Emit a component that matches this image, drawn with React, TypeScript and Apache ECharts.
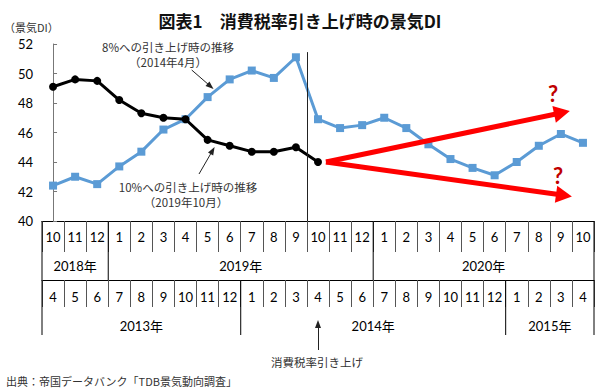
import React, { useEffect, useRef } from "react";
import * as echarts from "echarts";

// ---- data ----
const topMonths = ["10", "11", "12", "1", "2", "3", "4", "5", "6", "7", "8", "9", "10", "11", "12", "1", "2", "3", "4", "5", "6", "7", "8", "9", "10"];
const bottomMonths = ["4", "5", "6", "7", "8", "9", "10", "11", "12", "1", "2", "3", "4", "5", "6", "7", "8", "9", "10", "11", "12", "1", "2", "3", "4"];
const topYearLabels = ["2018年", "2019年", "2020年"];
const topYearBounds = [0, 3, 15, 25];
const bottomYearLabels = ["2013年", "2014年", "2015年"];
const bottomYearBounds = [0, 9, 21, 25];

// 8% hike path (2013/4 - 2015/4)
const di2014 = [42.4, 43.0, 42.5, 43.7, 44.7, 46.2, 46.9, 48.4, 49.6, 50.2, 49.7, 51.1, 46.9, 46.3, 46.5, 47.0, 46.3, 45.2, 44.2, 43.6, 43.1, 44.0, 45.1, 45.9, 45.3];
// 10% hike path (2018/10 - 2019/10)
const di2019 = [49.1, 49.6, 49.5, 48.2, 47.3, 47.0, 46.9, 45.5, 45.1, 44.7, 44.7, 45.0, 44.0];

// forecast arrows [x-index, DI]
const forecastStart = [12.36, 44.0];
const forecastUp = [23.05, 47.34];
const forecastDown = [23.14, 41.74];
const hikeBoundary = 11.5;

const FONT = 'Lato, "Noto Sans CJK JP", sans-serif';
const JP = '"Noto Sans CJK JP", sans-serif';

export default function App() {
  const ref = useRef<HTMLDivElement>(null);
  useEffect(() => {
    if (!ref.current) return;
    document.body.style.margin = "0";
    const chart = echarts.init(ref.current, undefined, { renderer: "svg" });
    chart.setOption({
      animation: false,
      backgroundColor: "#fff",
      textStyle: { fontFamily: FONT },
      grid: { left: 42, right: 6, top: 44, bottom: 170, containLabel: false },
      xAxis: [
        { type: "value", min: -0.5, max: 24.5, show: false },
        {
          type: "category",
          data: topMonths,
          position: "bottom",
          offset: 0,
          boundaryGap: true,
          axisLine: { show: true, lineStyle: { color: "#000", width: 1 } },
          axisTick: { show: true, interval: 0, length: 31, lineStyle: { color: "#555" } },
          axisLabel: { interval: 0, fontSize: 13, color: "#000", margin: 9, fontFamily: FONT },
        },
        {
          type: "category",
          data: bottomMonths,
          position: "bottom",
          offset: 59,
          boundaryGap: true,
          axisLine: { show: true, lineStyle: { color: "#000", width: 1 } },
          axisTick: { show: true, interval: 0, length: 27, lineStyle: { color: "#555" } },
          axisLabel: { interval: 0, fontSize: 13, color: "#000", margin: 10, fontFamily: FONT },
        },
      ],
      yAxis: {
        type: "value",
        min: 40,
        max: 52,
        interval: 2,
        axisLine: { show: true, lineStyle: { color: "#777" } },
        axisTick: { show: true, inside: true, length: 4, lineStyle: { color: "#777" } },
        axisLabel: { fontSize: 13, color: "#000", margin: 9, fontFamily: FONT },
        splitLine: { show: false },
      },
      series: [
        {
          type: "line",
          xAxisIndex: 0,
          z: 2,
          data: di2014.map((v, i) => [i, v]),
          symbol: "rect",
          symbolSize: 8,
          itemStyle: { color: "#5B9BD5" },
          lineStyle: { color: "#5B9BD5", width: 3 },
          markLine: {
            silent: true,
            symbol: ["none", "none"],
            label: { show: false },
            lineStyle: { color: "#222", width: 1, type: "solid" },
            data: [
              [
                { coord: [hikeBoundary, 51.45], symbol: "none" },
                { coord: [hikeBoundary, 40], symbol: "none" },
              ],
              [
                { x: 191.7, y: 70, symbol: "none" },
                { x: 210.5, y: 86.3, symbol: "triangle", symbolSize: [6, 8] },
              ],
              [
                { x: 199, y: 174, symbol: "none" },
                { x: 212.6, y: 150.5, symbol: "triangle", symbolSize: [6, 8] },
              ],
              [
                { x: 318, y: 350, symbol: "none" },
                { x: 318, y: 324, symbol: "triangle", symbolSize: [6, 8] },
              ],
            ],
          },
        },
        {
          type: "line",
          xAxisIndex: 0,
          z: 3,
          data: di2019.map((v, i) => [i, v]),
          symbol: "circle",
          symbolSize: 8,
          itemStyle: { color: "#000" },
          lineStyle: { color: "#000", width: 3 },
          markLine: {
            silent: true,
            symbol: ["none", "triangle"],
            symbolSize: [17, 16],
            label: { show: false },
            lineStyle: { color: "#FF0000", width: 5, type: "solid" },
            data: [
              [{ coord: forecastStart }, { coord: forecastUp }],
              [{ coord: forecastStart }, { coord: forecastDown }],
            ],
          },
        },
      ],
    });

    const xp = (b: number) => chart.convertToPixel({ xAxisIndex: 0 }, b - 0.5) as number;
    const y0 = chart.convertToPixel({ yAxisIndex: 0 }, 40) as number;
    const lineStyle = { stroke: "#000", lineWidth: 1 };
    const g: any[] = [];
    const vline = (x: number, ya: number, yb: number) =>
      g.push({ type: "line", shape: { x1: x, y1: ya, x2: x, y2: yb }, style: lineStyle, z: 10 });
    const rowTopEnd = y0 + 59;
    const rowBotEnd = y0 + 114;
    vline(xp(0), y0, rowBotEnd);
    vline(xp(25), y0, rowBotEnd);
    topYearBounds.slice(1, -1).forEach((b) => vline(xp(b), y0, rowTopEnd));
    bottomYearBounds.slice(1, -1).forEach((b) => vline(xp(b), rowTopEnd, rowBotEnd));
    const yearText = (label: string, x: number, y: number) =>
      g.push({
        type: "text",
        x,
        y,
        style: { text: label, fontSize: 13, fill: "#000", fontFamily: FONT, align: "center", verticalAlign: "middle" },
        z: 10,
      });
    topYearLabels.forEach((l, i) => yearText(l, (xp(topYearBounds[i]) + xp(topYearBounds[i + 1])) / 2, y0 + 45));
    bottomYearLabels.forEach((l, i) => yearText(l, (xp(bottomYearBounds[i]) + xp(bottomYearBounds[i + 1])) / 2, y0 + 105));

    const txt = (text: string, x: number, y: number, size: number, opts: any = {}) =>
      g.push({
        type: "text",
        x,
        y,
        style: {
          text,
          fontSize: size,
          fill: "#333",
          fontFamily: JP,
          align: "center",
          verticalAlign: "middle",
          ...opts,
        },
        z: 10,
      });
    txt("図表1　消費税率引き上げ時の景気DI", 300, 20, 17, { fill: "#111", fontWeight: "bold" });
    txt("（景気DI）", 4, 27, 11, { align: "left" });
    txt("8%への引き上げ時の推移", 168, 47, 11.5);
    txt("（2014年4月）", 168, 62, 11.5);
    txt("10%への引き上げ時の推移", 188, 187, 11.5);
    txt("（2019年10月）", 186, 202, 11.5);
    txt("消費税率引き上げ", 317, 362, 11.5);
    txt("出典：帝国データバンク「TDB景気動向調査」", 6, 381, 11, { align: "left" });
    txt("?", 553, 93, 22, { fill: "#C00000", fontWeight: "bold", fontFamily: FONT });
    txt("?", 558, 175, 22, { fill: "#C00000", fontWeight: "bold", fontFamily: FONT });

    chart.setOption({ graphic: g });
    return () => chart.dispose();
  }, []);
  return <div ref={ref} style={{ width: 600, height: 391, position: "absolute", left: 0, top: 0 }} />;
}
